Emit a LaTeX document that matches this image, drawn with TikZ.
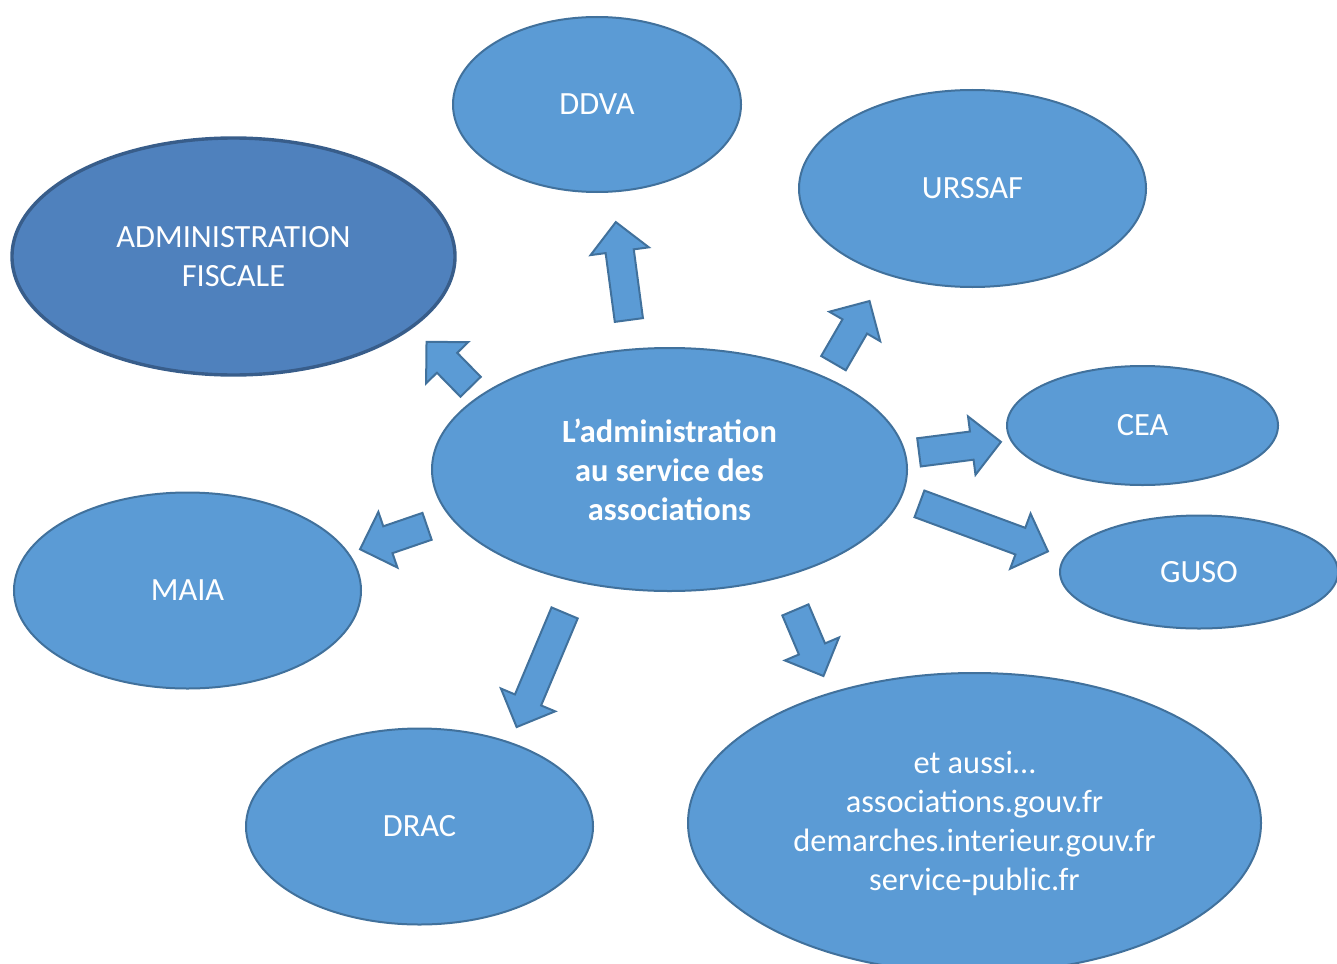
\documentclass[tikz,border=0pt]{standalone}
\usepackage{fontspec}
\setmainfont{Carlito}
\usetikzlibrary{shapes.geometric,shapes.arrows}
\definecolor{bubblefill}{HTML}{5B9BD5}
\definecolor{bubbleline}{HTML}{41719C}
\definecolor{fiscfill}{HTML}{4F81BD}
\definecolor{fiscline}{HTML}{385D8A}

\begin{document}
\begin{tikzpicture}[x=0.5pt,y=-0.5pt,
  bubble/.style={ellipse,draw=bubbleline,fill=bubblefill,line width=1pt,inner sep=0pt,text=white,align=center,font=\fontsize{16.2}{19.5}\selectfont},
  fiscal/.style={bubble,draw=fiscline,fill=fiscfill,line width=1.7pt},
  fatarrow/.style={single arrow,draw=bubbleline,fill=bubblefill,line width=1pt,inner xsep=0pt,inner ysep=6.6pt,single arrow head extend=7.6pt,anchor=tail}]
  \clip (0,0) rectangle (1337,963);
  \useasboundingbox (0,0) rectangle (1337,963);

  \node[bubble,minimum width=144pt,minimum height=87.5pt] (ddva) at (597,104.5) {DDVA};
  \node[bubble,minimum width=173.5pt,minimum height=98.5pt] (urssaf) at (972.5,188.5) {URSSAF};
  \node[fiscal,minimum width=221.5pt,minimum height=118.5pt] (fisc) at (233.5,256.5) {ADMINISTRATION\\FISCALE};
  \node[bubble,minimum width=135.5pt,minimum height=59.5pt] (cea) at (1142.5,425.5) {CEA};
  \node[bubble,minimum width=139pt,minimum height=56.5pt] (guso) at (1199,572) {GUSO};
  \node[bubble,minimum width=237.5pt,minimum height=121.5pt,font=\fontsize{16.2}{19.5}\selectfont\bfseries] (assoc) at (669.5,469.5) {L’administration\\au service des\\associations};
  \node[bubble,minimum width=173.5pt,minimum height=98pt] (maia) at (187.5,590.5) {MAIA};
  \node[bubble,minimum width=173.5pt,minimum height=98pt] (drac) at (419.5,826.5) {DRAC};
  \node[bubble,minimum width=286.5pt,minimum height=150pt] (aussi) at (974.5,823) {et aussi…\\associations.gouv.fr\\demarches.interieur.gouv.fr\\service-public.fr};

  % fat arrows out of the centre
  \foreach \nm/\tx/\ty/\ang/\len in {ddva/629/321/97.6/49.4, fisc/471.3/387.5/134.4/31.5, urssaf/833/364/59.9/35.9,
      cea/918/452.5/7.3/41.3, guso/918.5/503.5/-20.3/68.5, aussi/795/609/-67/35.9,
      maia/428/526/198.9/35.4, drac/565/612/-112.8/61.9}
    \node[fatarrow,rotate=\ang,minimum height=\len pt] (arr-\nm) at (\tx,\ty) {};
\end{tikzpicture}
\end{document}
